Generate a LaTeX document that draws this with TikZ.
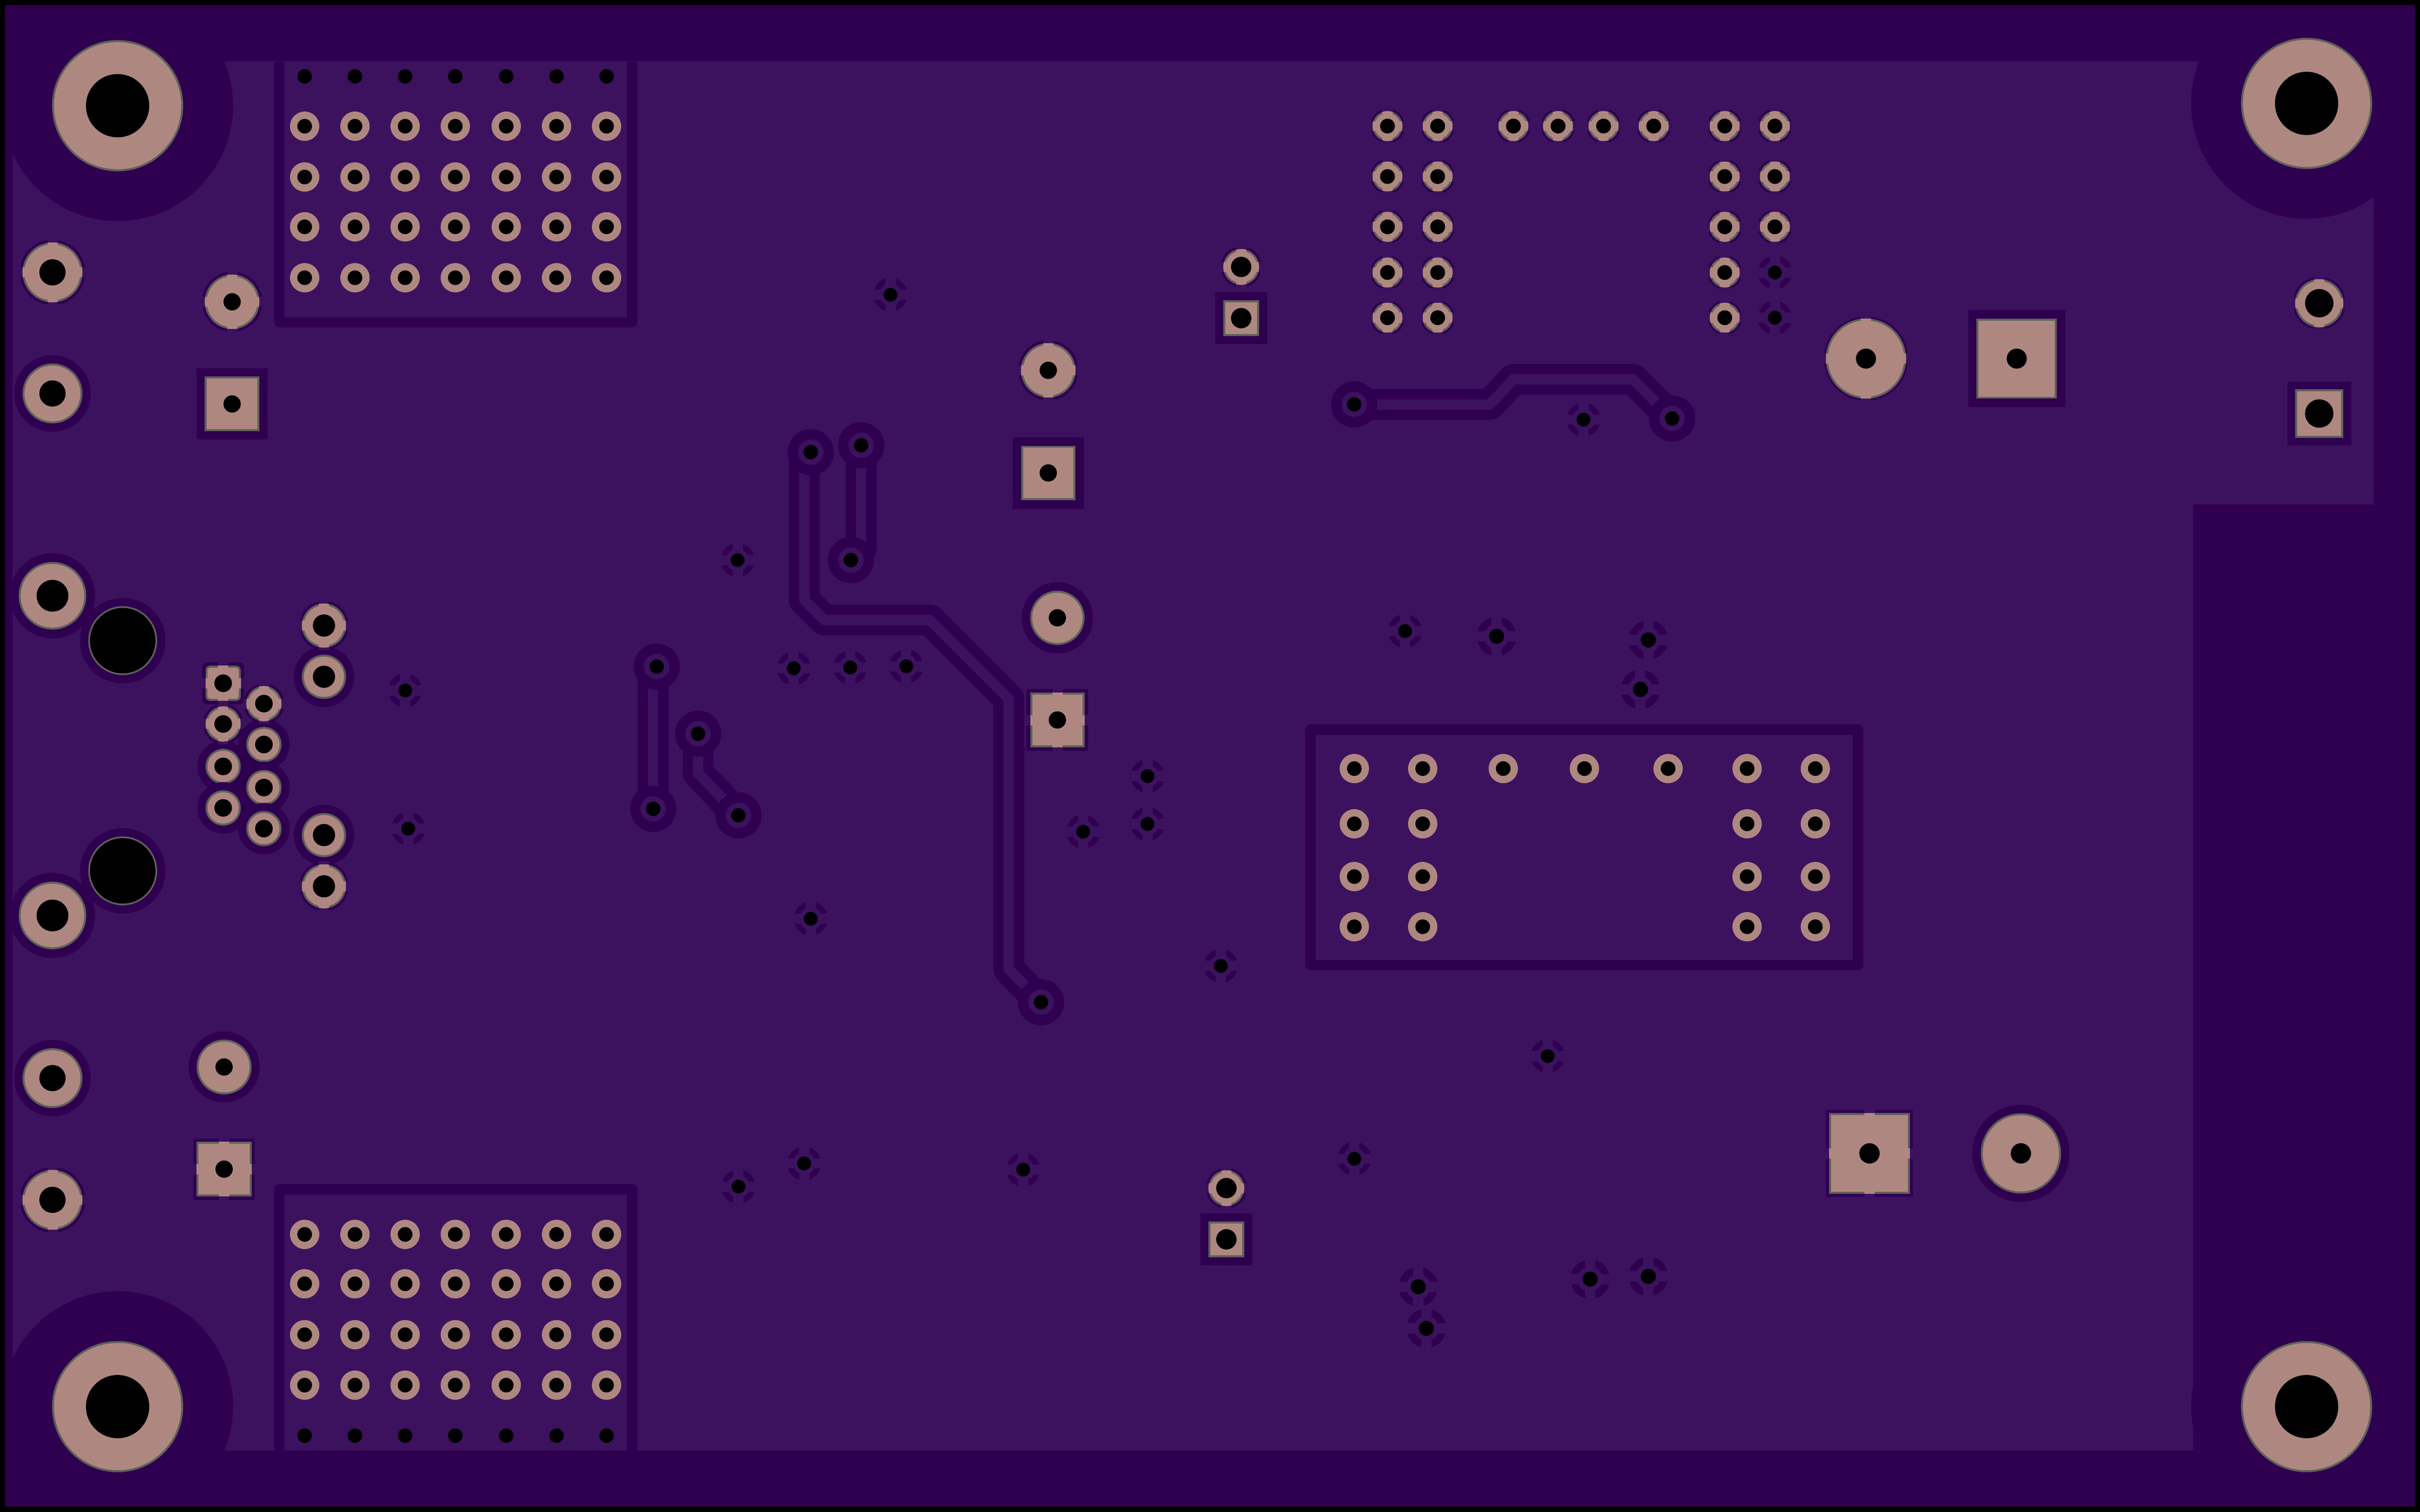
\documentclass[tikz,border=0pt]{standalone}
\definecolor{maskdark}{HTML}{300050}
\definecolor{maskfill}{HTML}{3C125F}
\definecolor{padcopper}{HTML}{AE8880}
\definecolor{padedge}{HTML}{5F615A}
\newcommand{\padcross}[4]{
	\fill[#4] (#1-3.3,#2-#3) rectangle (#1+3.3,#2+#3);
	\fill[#4] (#1-#3,#2-3.3) rectangle (#1+#3,#2+3.3);
}
\newcommand{\roundpad}[5]{
	\fill[maskdark] (#1,#2) circle ({#4});
	\fill[padedge] (#1,#2) circle ({#3});
	\fill[padcopper] (#1,#2) circle ({#3-1.3});
	\fill[black] (#1,#2) circle ({#5});
}
\newcommand{\roundtherm}[5]{
	\fill[maskdark] (#1,#2) circle ({#4});
	\padcross{#1}{#2}{#4}{maskfill}
	\fill[padedge] (#1,#2) circle ({#3});
	\fill[padcopper] (#1,#2) circle ({#3-1.3});
	\begin{scope}
		\clip (#1,#2) circle ({#3});
		\padcross{#1}{#2}{#3}{padcopper}
	\end{scope}
	\fill[black] (#1,#2) circle ({#5});
}
\newcommand{\squarepad}[5]{
	\fill[maskdark] (#1-#4,#2-#4) rectangle (#1+#4,#2+#4);
	\fill[padedge] (#1-#3,#2-#3) rectangle (#1+#3,#2+#3);
	\fill[padcopper] (#1-#3+1.3,#2-#3+1.3) rectangle (#1+#3-1.3,#2+#3-1.3);
	\fill[black] (#1,#2) circle ({#5});
}
\newcommand{\squaretherm}[5]{
	\fill[maskdark] (#1-#4,#2-#4) rectangle (#1+#4,#2+#4);
	\padcross{#1}{#2}{#4}{maskfill}
	\fill[padedge] (#1-#3,#2-#3) rectangle (#1+#3,#2+#3);
	\fill[padcopper] (#1-#3+1.3,#2-#3+1.3) rectangle (#1+#3-1.3,#2+#3-1.3);
	\padcross{#1}{#2}{#3}{padcopper}
	\fill[black] (#1,#2) circle ({#5});
}
\newcommand{\viamark}[5]{
	\fill[maskdark] (#1,#2) circle ({#3});
	\fill[maskfill] (#1,#2) circle ({#4});
	\padcross{#1}{#2}{#3}{maskfill}
	\fill[black] (#1,#2) circle ({#5});
}
\newcommand{\barepad}[2]{
	\fill[padcopper] (#1,#2) circle (9.5);
	\fill[black] (#1,#2) circle (4.75);
}
\newcommand{\trackline}[1]{
	\draw[trackedge] #1;
	\draw[trackcore] #1;
}

\begin{document}
\begin{tikzpicture}[x=1pt,y=-1pt]
	\tikzset{trackedge/.style={draw=maskdark,line width=20pt,line join=round,line cap=round}}
	\tikzset{trackcore/.style={draw=maskfill,line width=6.7pt,line join=round,line cap=round}}
	\tikzset{frameline/.style={draw=maskdark,line width=6.8pt,line join=round}}
	\useasboundingbox (0,0) rectangle (1568,979.6);
	% board and copper pour
	\fill[maskdark] (0,0) rectangle (1568,979.6);
	\fill[maskfill] (8.2,39.8) -- (1538,39.8) -- (1538,327) -- (1421,327) -- (1421,940) -- (8.2,940) -- cycle;
	% mounting holes
	\foreach \x/\y in {76.2/68.5,1494.5/67,76.2/911.6,1494.5/911.6}{
		\roundpad{\x}{\y}{42.5}{74.8}{20.5}
	}
	% outlines round the pin fields
	\draw[frameline] (181,40) -- (181,208.8) -- (409.6,208.8) -- (409.6,40);
	\draw[frameline] (181,940) -- (181,770.9) -- (409.6,770.9) -- (409.6,940);
	\draw[frameline] (849.2,472.9) rectangle (1203.9,625.5);
	% tracks
	\trackline{(525.3,293) -- (521.2,300) -- (521.2,389) -- (534,401.8) -- (602.5,401.8) -- (653.6,452.9) -- (653.6,628) -- (674.5,649.5)}
	\trackline{(558,288.6) -- (558,355) -- (551.3,363)}
	\trackline{(425.5,432) -- (423.2,437) -- (423.2,524.2)}
	\trackline{(452.3,475.5) -- (452.3,501) -- (478.5,528.4)}
	\trackline{(877.4,262.1) -- (965.4,262.1) -- (980.6,245.8) -- (1058,245.8) -- (1083.4,271.2)}
	\foreach \x/\y in {525.3/293,558/288.6,551.3/363,425.5/432,423.2/524.2,452.3/475.5,478.5/528.4,674.5/649.5,877.4/262.1,1083.4/271.2}{
		\fill[maskdark] (\x,\y) circle (15);
		\fill[maskfill] (\x,\y) circle (8.2);
		\fill[black] (\x,\y) circle (4.7);
	}
	% vias
	\foreach \x/\y in {577/191,477.9/363,514.3/433.1,550.9/432.6,587.2/431.8,262.6/447.5,264.5/537,525.3/595.4,743.5/503,743.5/534,701.8/539,791/626,910.4/409,1026/272,1002.8/684.4,877.5/751,663/758,521/754,478.5/769,1150/176.6,1150/205.9}{
		\viamark{\x}{\y}{11}{7.3}{4.5}
	}
	\foreach \x/\y in {969.7/412.4,1068/414.7,1062.9/446.8,918.9/833.9,924.2/860.9,1030.3/829,1068/827.2}{
		\viamark{\x}{\y}{12.8}{8}{4.9}
	}
	% pin fields
	\foreach \x in {197.4,230,262.5,295,328,360.6,393}{
		\fill[black] (\x,49.5) circle (4.7);
		\fill[black] (\x,930.4) circle (4.7);
		\foreach \y in {81.8,114.7,147,180,800,832,865,897.7}{
			\barepad{\x}{\y}
		}
	}
	\foreach \x in {877.5,921.8,1132,1176.2}{
		\foreach \y in {498.1,533.9,568.1,600.6}{
			\barepad{\x}{\y}
		}
	}
	\foreach \x in {974,1026.6,1080.8}{
		\barepad{\x}{498.1}
	}
	% header above the module
	\foreach \x in {899,931.5,1117.5}{
		\foreach \y in {81.7,114.4,147,176.6,205.9}{
			\roundtherm{\x}{\y}{9.7}{11.2}{4.8}
		}
	}
	\foreach \x in {980.6,1009.5,1039,1071.5}{
		\roundtherm{\x}{81.7}{9.7}{11.2}{4.8}
	}
	\foreach \y in {81.7,114.4,147}{
		\roundtherm{1150}{\y}{9.7}{11.2}{4.8}
	}
	% connector at the left edge
	\foreach \x/\y in {79.5/415.2,79.5/564.4}{
		\fill[maskdark] (\x,\y) circle (27.7);
		\fill[padedge] (\x,\y) circle (22.3);
		\fill[black] (\x,\y) circle (21.2);
	}
	\foreach \y in {386.1,593.3}{
		\roundpad{34}{\y}{21.9}{27.6}{10.3}
	}
	\foreach \x/\y in {144.6/496.7,144.6/523.6,171/482.5,171/510.4,171/537}{
		\roundpad{\x}{\y}{11.4}{16.7}{5.7}
	}
	\foreach \y in {438.6,541.2}{
		\roundpad{209.9}{\y}{14.3}{19.6}{7.2}
	}
	\foreach \y in {405.4,574.4}{
		\roundtherm{209.9}{\y}{14.3}{16}{7.2}
	}
	\foreach \x/\y in {144.6/469.2,171/456}{
		\roundtherm{\x}{\y}{11.4}{13.2}{5.7}
	}
	\fill[maskdark,rounded corners=3pt] (131,429.2) rectangle (158.2,456.4);
	\padcross{144.6}{442.8}{13.6}{maskfill}
	\fill[padedge,rounded corners=3pt] (133.2,431.4) rectangle (156,454.2);
	\fill[padcopper,rounded corners=2pt] (134.5,432.7) rectangle (154.7,452.9);
	\padcross{144.6}{442.8}{11.4}{padcopper}
	\fill[black] (144.6,442.8) circle (5.7);
	% two pin sockets
	\foreach \y in {176.5,777.6}{
		\roundtherm{34}{\y}{19.4}{21.2}{8.5}
	}
	\foreach \y in {255,698.7}{
		\roundpad{34}{\y}{19.4}{24.8}{8.5}
	}
	\roundtherm{150.4}{195.6}{17.7}{19.6}{5.6}
	\squarepad{150.4}{261.8}{17.7}{23.1}{5.6}
	\roundpad{145.2}{691.5}{17.8}{23}{5.6}
	\squaretherm{145.2}{757.7}{17.8}{19.9}{5.6}
	\roundtherm{679.2}{240}{17.7}{19.5}{5.6}
	\squarepad{679.2}{306.5}{17.6}{23.2}{5.6}
	\roundpad{685.1}{400.4}{17.6}{23.1}{5.6}
	\squaretherm{685.1}{466.6}{17.6}{20}{5.6}
	\roundtherm{804.2}{173}{11.6}{13.3}{6.6}
	\squarepad{804.2}{206.2}{11.6}{16.9}{6.6}
	\roundtherm{794.6}{770}{11.6}{13.3}{6.6}
	\squarepad{794.6}{803.2}{11.6}{16.9}{6.6}
	\roundtherm{1209}{232.4}{26}{27.3}{6.5}
	\squarepad{1306.7}{232.4}{26}{31.4}{6.5}
	\squaretherm{1211.3}{747.5}{26.2}{28.2}{6.6}
	\roundpad{1309.4}{747.5}{26}{31.5}{6.6}
	\roundtherm{1502.7}{196.5}{15.6}{17.2}{9.2}
	\squarepad{1502.7}{268}{15.6}{20.7}{9.2}
	% edge
	\draw[black,line width=6.6pt] (0,0) rectangle (1568,979.6);
\end{tikzpicture}
\end{document}
